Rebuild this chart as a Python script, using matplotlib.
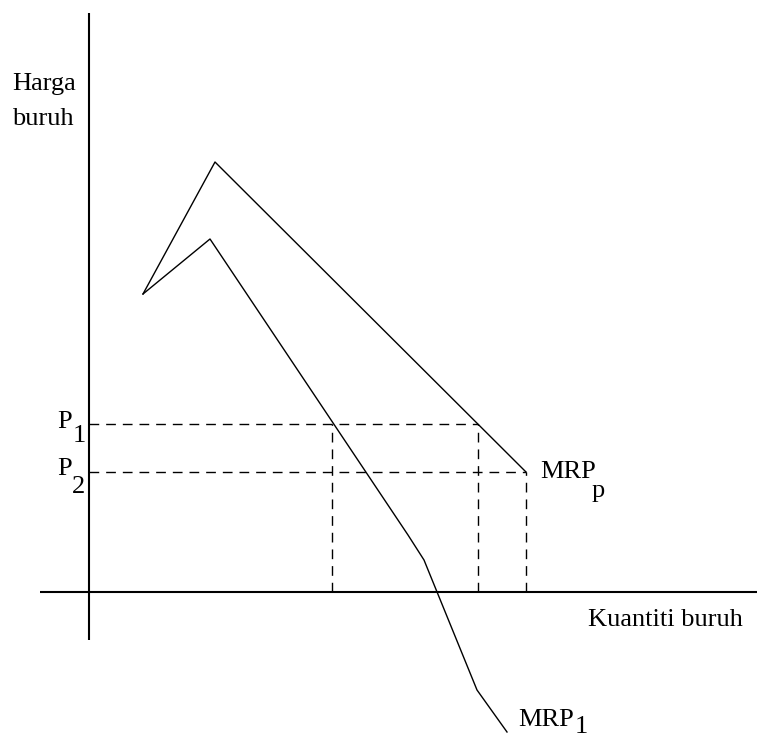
import matplotlib
matplotlib.use("Agg")
import matplotlib.pyplot as plt

# ── diagram data (quantity, price) relative to origin ──
mrp_p_q = [54, 126, 437]
mrp_p_w = [298, 430, 120]

mrp_1_q = [54, 121, 319, 335, 388, 418]
mrp_1_w = [298, 353, 57, 32, -98, -140]

P1, P2 = 168, 120
Q_a, Q_b, Q_c = 243, 389, 437

plt.rcParams.update({
    "font.family": ["Liberation Serif", "DejaVu Serif"],
    "font.size": 19,
})

fig = plt.figure(figsize=(7.6, 7.41), dpi=100)
ax = fig.add_axes([0, 0, 1, 1])
ax.set_xlim(-89, 671)
ax.set_ylim(-149, 592)
ax.axis("off")

# axes
ax.plot([0, 0], [-48, 579], color="black", lw=1.5, solid_capstyle="butt")
ax.plot([-49, 668], [0, 0], color="black", lw=1.5, solid_capstyle="butt")

# curves
ax.plot(mrp_p_q, mrp_p_w, color="black", lw=1.0)
ax.plot(mrp_1_q, mrp_1_w, color="black", lw=1.0)

# dashed guides
dash = dict(color="black", lw=1.0, dashes=(7, 5))
ax.plot([0, Q_b], [P1, P1], **dash)
ax.plot([0, Q_c], [P2, P2], **dash)
ax.plot([Q_a, Q_a], [0, P1], **dash)
ax.plot([Q_b, Q_b], [0, P1], **dash)
ax.plot([Q_c, Q_c], [0, P2], **dash)

# labels (subscripts drawn as dropped full-size text, like the original)
ax.text(-77, 502, "Harga", ha="left", va="baseline")
ax.text(-77, 467, "buruh", ha="left", va="baseline")

ax.text(-32, 164, "P", ha="left", va="baseline")
ax.text(-16, 150, "1", ha="left", va="baseline")
ax.text(-32, 117, "P", ha="left", va="baseline")
ax.text(-17, 99, "2", ha="left", va="baseline")

ax.text(451, 114, "MRP", ha="left", va="baseline")
ax.text(503, 95, "p", ha="left", va="baseline")
ax.text(429, -134, "MRP", ha="left", va="baseline")
ax.text(486, -141, "1", ha="left", va="baseline")

ax.text(499, -34, "Kuantiti buruh", ha="left", va="baseline")

fig.savefig("out.png", dpi=100)
